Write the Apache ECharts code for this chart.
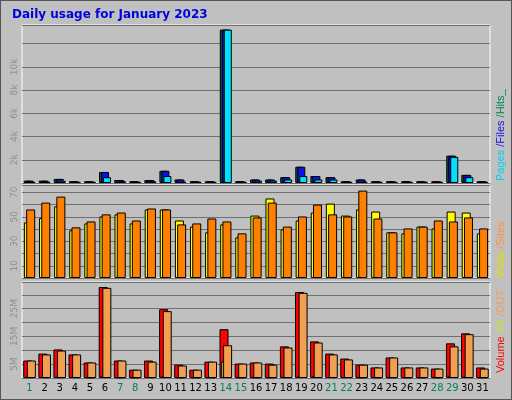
<!DOCTYPE html>
<html><head><meta charset="utf-8">
<script src="https://cdn.jsdelivr.net/npm/echarts@6/dist/echarts.min.js"></script>
<style>html,body{margin:0;padding:0;background:#c0c0c0}#c{width:512px;height:400px;box-sizing:border-box;border:1px solid #555}</style>
</head><body><div id="c"></div>
<script>
const days = ['1','2','3','4','5','6','7','8','9','10','11','12','13','14','15','16','17','18','19','20','21','22','23','24','25','26','27','28','29','30','31'];
const weekend = ['1','7','8','14','15','21','22','28','29'];
const hits  = [200,200,350,150,150,950,250,150,250,1050,300,150,150,13200,150,300,300,500,1400,600,500,150,300,150,150,150,150,150,2350,700,150];
const files = [200,200,350,150,150,950,250,150,250,1050,300,150,150,13200,150,300,300,500,1400,600,500,150,300,150,150,150,150,150,2350,700,150];
const pages = [100,100,200,100,100,500,150,100,150,600,100,100,100,13200,100,200,200,300,600,300,300,100,100,100,100,100,100,100,2250,500,100];
const visits = [45.4,49,58.6,39,44.6,50.3,52,44.6,56,56,47,42,37.3,43.8,33.2,51,65,39.7,47,53.5,60.8,51,56,54.3,37.3,36.5,42,40.5,54.3,53.5,36.5];
const sites  = [56,61.6,66.5,41.4,46.2,52,53.5,47,56.8,56,43.8,44.6,48.6,46.2,36.5,49.5,61.6,42,50.3,60,52,50.3,71.4,48.6,37.3,40.5,42,47,46.2,49.5,40.5];
const volume = [6.3,8.8,10.3,8.5,5.6,32.8,6.3,3.0,6.3,24.8,4.8,3.0,5.9,17.6,5.2,5.6,5.2,11.4,31.0,13.2,8.8,7.0,4.8,3.8,7.4,3.8,3.8,3.4,12.5,16.1,3.8];
const volIn  = [0.3,0.3,0.3,0.3,0.2,0.6,0.2,0.2,0.3,0.6,0.2,0.2,0.2,5.9,0.2,0.2,0.2,0.3,0.6,0.6,0.3,0.3,0.2,0.2,0.2,0.2,0.2,0.2,0.8,0.6,0.2];
const volOut = [6.3,8.5,9.9,8.5,5.6,32.5,6.3,3.0,5.9,24.1,4.5,3.0,5.9,11.8,5.2,5.6,4.8,11.0,30.7,12.8,8.5,6.7,4.8,3.8,7.4,3.8,3.8,3.4,11.4,15.8,3.4];

const chart = echarts.init(document.getElementById('c'));
const L=21, R=21;
const grids=[{left:L,right:R,top:24,height:158},{left:L,right:R,top:184,height:93},{left:L,right:R,top:281,height:96}];
grids.forEach(g=>{g.show=true;g.backgroundColor='#c0c0c0';g.borderColor='#ffffff';g.borderWidth=1;});
function xa(i,show){return {type:'category',gridIndex:i,data:days,axisTick:{show:false},axisLine:{show:false},
  axisLabel:{show:show,interval:0,fontSize:10,fontFamily:'DejaVu Sans',margin:5,color:v=>weekend.includes(v)?'#008060':'#000'}};}
function ya(i,max,interval,fmt){return {type:'value',gridIndex:i,min:0,max:max,interval:interval,
  splitLine:{lineStyle:{color:'#707070',width:1}},axisLine:{show:false},axisTick:{show:false},
  axisLabel:{rotate:90,fontSize:9,color:'#909090',fontFamily:'DejaVu Sans',margin:3,formatter:fmt,showMaxLabel:false,showMinLabel:false}};}
function bar(name,data,i,color,w,gap){return {name,type:'bar',data,xAxisIndex:i,yAxisIndex:i,barWidth:w,barGap:gap,
  itemStyle:{color,borderColor:'#000',borderWidth:1},animation:false};}
chart.setOption({
  animation:false,
  title:{text:'Daily usage for January 2023',left:6,top:3,textStyle:{color:'#0000e0',fontSize:12,fontWeight:'bold',fontFamily:'DejaVu Sans'}},
  grid:grids,
  xAxis:[xa(0,false),xa(1,false),xa(2,true)],
  yAxis:[ya(0,13600,2000,v=>(v>0&&v<12000)?(v/1000)+'k':''),
         ya(1,76,10,v=>(v%20===10)?String(v):''),
         ya(2,34.6,5,v=>(v%10===5)?v+'M':'')],
  series:[
    bar('Hits',hits,0,'#006040',8,'-75%'),
    bar('Files',files,0,'#1010e0',8,'-75%'),
    bar('Pages',pages,0,'#00e0ff',8,'-75%'),
    bar('Visits',visits,1,'#ffff00',9,'-75%'),
    bar('Sites',sites,1,'#ff8000',9,'-75%'),
    bar('Volume',volume,2,'#ff0000',9,'-80%'),
    bar('IN',volIn,2,'#c0ff40',9,'-80%'),
    bar('OUT',volOut,2,'#f0a050',9,'-80%')
  ],
  graphic:[
    {type:'text',x:494,y:180,rotation:Math.PI/2,style:{text:'{a|Pages }{b|/Files }{c|/Hits_}',rich:{a:{fill:'#00d0f0',fontSize:11},b:{fill:'#1010e0',fontSize:11},c:{fill:'#008060',fontSize:11}},fontFamily:'DejaVu Sans'}},
    {type:'text',x:494,y:277,rotation:Math.PI/2,style:{text:'{a|Visits }{b|/Sites}',rich:{a:{fill:'#e0e000',fontSize:11},b:{fill:'#ff9040',fontSize:11}},fontFamily:'DejaVu Sans'}},
    {type:'text',x:494,y:372,rotation:Math.PI/2,style:{text:'{a|Volume }{b|/IN }{c|/OUT }',rich:{a:{fill:'#ff0000',fontSize:11},b:{fill:'#c0e040',fontSize:11},c:{fill:'#f0a050',fontSize:11}},fontFamily:'DejaVu Sans'}}
  ]
});
</script></body></html>
